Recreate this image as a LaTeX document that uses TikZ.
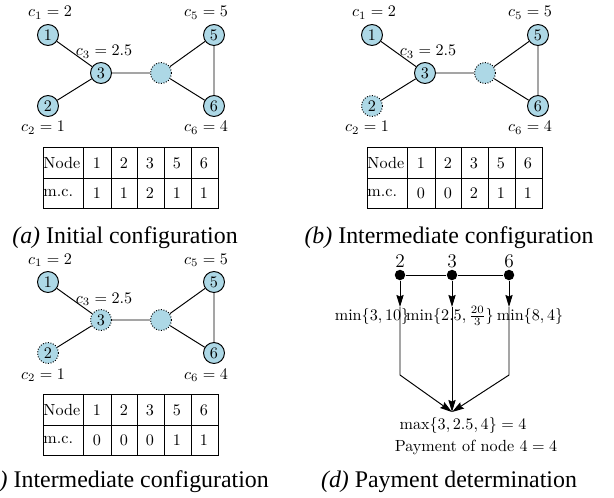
\documentclass[tikz,border=0pt]{standalone}
\usepackage{fontspec}
\newfontfamily\capfont{Liberation Serif}
\usetikzlibrary{arrows.meta}
\definecolor{nodeblue}{RGB}{173,216,230}

\begin{document}
\begin{tikzpicture}[x=0.62pt,y=-0.62pt,semithick,
  vert/.style={circle,draw,fill=nodeblue,minimum size=13pt,inner sep=0pt},
  gone/.style={circle,draw,densely dotted,fill=nodeblue,minimum size=13pt,inner sep=0pt},
  dot/.style={circle,fill,minimum size=6.5pt,inner sep=0pt},
  arr/.style={-{Stealth[length=7.5pt,width=4.5pt,inset=1pt]}},
  capt/.style={anchor=base,font=\capfont\fontsize{14.8}{17}\selectfont}]
  \useasboundingbox (0,0) rectangle (614,497);
  % (a) initial
  \begin{scope}[shift={(0,0)}]
    \node[vert] (v1) at (48,35) {1};
    \node[vert] (v2) at (48,106) {2};
    \node[vert] (v3) at (101,73) {3};
    \node[gone] (v4) at (161,73) {};
    \node[vert] (v5) at (214,35) {5};
    \node[vert] (v6) at (214,106) {6};
    \draw (v1) -- (v3) -- (v2);
    \draw (v3) -- (v4) -- (v5) -- (v6) -- (v4);
    \node (l1) at (50,13) {$c_1 = 2$};
    \node (l2) at (43,128) {$c_2 = 1$};
    \node (l3) at (104,52) {$c_3 = 2.5$};
    \node (l5) at (206,13) {$c_5 = 5$};
    \node (l6) at (206,128) {$c_6 = 4$};
    \draw (43,147) rectangle (218,208);
    \draw (43,178) -- (218,178);
    \foreach \x in {83,111,137,164,191} \draw (\x,147) -- (\x,208);
    \node[anchor=west,inner sep=0pt] (h0) at (43,163) {Node};
    \node (h1) at (97,163) {1}; \node (h2) at (124,163) {2}; \node (h3) at (150,163) {3};
    \node (h5) at (177,163) {5}; \node (h6) at (204,163) {6};
    \node[anchor=west,inner sep=0pt] (r0) at (43,193) {m.c.};
    \node (r1) at (97,193) {1}; \node (r2) at (124,193) {1}; \node (r3) at (150,193) {2};
    \node (r5) at (177,193) {1}; \node (r6) at (204,193) {1};
  \end{scope}
  % (b) node 2 gone
  \begin{scope}[shift={(324,0)}]
    \node[vert] (v1) at (48,35) {1};
    \node[gone] (v2) at (48,106) {2};
    \node[vert] (v3) at (101,73) {3};
    \node[gone] (v4) at (161,73) {};
    \node[vert] (v5) at (214,35) {5};
    \node[vert] (v6) at (214,106) {6};
    \draw (v1) -- (v3) -- (v2);
    \draw (v3) -- (v4) -- (v5) -- (v6) -- (v4);
    \node (l1) at (50,13) {$c_1 = 2$};
    \node (l2) at (43,128) {$c_2 = 1$};
    \node (l3) at (104,52) {$c_3 = 2.5$};
    \node (l5) at (206,13) {$c_5 = 5$};
    \node (l6) at (206,128) {$c_6 = 4$};
    \draw (43,147) rectangle (218,208);
    \draw (43,178) -- (218,178);
    \foreach \x in {83,111,137,164,191} \draw (\x,147) -- (\x,208);
    \node[anchor=west,inner sep=0pt] (h0) at (43,163) {Node};
    \node (h1) at (97,163) {1}; \node (h2) at (124,163) {2}; \node (h3) at (150,163) {3};
    \node (h5) at (177,163) {5}; \node (h6) at (204,163) {6};
    \node[anchor=west,inner sep=0pt] (r0) at (43,193) {m.c.};
    \node (r1) at (97,193) {0}; \node (r2) at (124,193) {0}; \node (r3) at (150,193) {2};
    \node (r5) at (177,193) {1}; \node (r6) at (204,193) {1};
  \end{scope}
  % (c) nodes 2 and 3 gone
  \begin{scope}[shift={(0,247)}]
    \node[vert] (v1) at (48,35) {1};
    \node[gone] (v2) at (48,106) {2};
    \node[gone] (v3) at (101,73) {3};
    \node[gone] (v4) at (161,73) {};
    \node[vert] (v5) at (214,35) {5};
    \node[vert] (v6) at (214,106) {6};
    \draw (v1) -- (v3) -- (v2);
    \draw (v3) -- (v4) -- (v5) -- (v6) -- (v4);
    \node (l1) at (50,13) {$c_1 = 2$};
    \node (l2) at (43,128) {$c_2 = 1$};
    \node (l3) at (104,52) {$c_3 = 2.5$};
    \node (l5) at (206,13) {$c_5 = 5$};
    \node (l6) at (206,128) {$c_6 = 4$};
    \draw (43,147) rectangle (218,208);
    \draw (43,178) -- (218,178);
    \foreach \x in {83,111,137,164,191} \draw (\x,147) -- (\x,208);
    \node[anchor=west,inner sep=0pt] (h0) at (43,163) {Node};
    \node (h1) at (97,163) {1}; \node (h2) at (124,163) {2}; \node (h3) at (150,163) {3};
    \node (h5) at (177,163) {5}; \node (h6) at (204,163) {6};
    \node[anchor=west,inner sep=0pt] (r0) at (43,193) {m.c.};
    \node (r1) at (97,193) {0}; \node (r2) at (124,193) {0}; \node (r3) at (150,193) {0};
    \node (r5) at (177,193) {1}; \node (r6) at (204,193) {1};
  \end{scope}
  % (d) payment
  \node[dot] (d2) at (400,275) {};
  \node[dot] (d3) at (452,275) {};
  \node[dot] (d6) at (509,275) {};
  \node[font=\large] (p2) at (400,261) {2};
  \node[font=\large] (p3) at (452,261) {3};
  \node[font=\large] (p6) at (509,261) {6};
  \draw (d2) -- (d3) -- (d6);
  \node (m1) at (372,316) {$\min\{3,10\}$};
  \node (m2) at (450,316) {$\min\{2.5,\frac{20}{3}\}$};
  \node (m3) at (530,316) {$\min\{8,4\}$};
  \coordinate (e2) at (400,307);
  \coordinate (e3) at (452,307);
  \coordinate (e6) at (509,307);
  \coordinate (k2) at (400,375);
  \coordinate (k6) at (509,375);
  \coordinate (top) at (452,412);
  \draw[arr] (d2) -- (e2);
  \draw[arr] (d3) -- (e3);
  \draw[arr] (d6) -- (e6);
  \draw[arr] (e2) -- (k2) -- (top);
  \draw[arr] (e3) -- (top);
  \draw[arr] (e6) -- (k6) -- (top);
  \node (mx) at (463,425) {$\max\{3,2.5,4\} = 4$};
  \node (pay) at (476,447) {Payment of node $4 = 4$};
  % captions
  \node[capt] (capa) at (125,243) {\textit{(a)} Initial configuration};
  \node[capt] (capb) at (449,243) {\textit{(b)} Intermediate configuration};
  \node[capt] (capc) at (125,487) {\textit{(c)} Intermediate configuration};
  \node[capt] (capd) at (449,487) {\textit{(d)} Payment determination};
\end{tikzpicture}
\end{document}
